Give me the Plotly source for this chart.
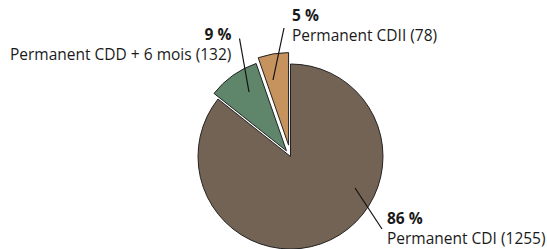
import math
import plotly.graph_objects as go

# ---- data ----
categories = ["Permanent CDI", "Permanent CDD + 6 mois", "Permanent CDII"]
counts = [1255, 132, 78]
colors = ["#736354", "#5f866a", "#c6935f"]
pulls = [0.0, 0.075, 0.125]   # fraction of radius each slice is pulled out

# ---- layout constants (pixels) ----
W, H = 547, 249
CX, CY, R = 290.5, 156.5, 92.5
FONT = "Open Sans"
FS = 15.5

# label layout: leader inner/outer points, text x, middle y of the label block, alignment
label_layout = [
    dict(inner=(355, 188), outer=(382, 229), tx=386, ty=227.5, anchor="left"),
    dict(inner=(249, 92), outer=(239.5, 38.5), tx=232, ty=44, anchor="right"),
    dict(inner=(273, 80), outer=(284, 28), tx=291, ty=25, anchor="left"),
]

total = sum(counts)
pct = [round(100 * c / total) for c in counts]

fig = go.Figure()

# one trace per visible slice so each one can be offset (pulled) independently
start = 0.0
for i, c in enumerate(counts):
    span = 360.0 * c / total
    mid = math.radians(start + span / 2)
    d = pulls[i] * R
    cx = CX + d * math.sin(mid)
    cy = CY - d * math.cos(mid)
    start += span
    slice_colors = ["rgba(0,0,0,0)"] * len(counts)
    slice_colors[i] = colors[i]
    widths = [0] * len(counts)
    widths[i] = 1
    fig.add_trace(go.Pie(
        labels=categories, values=counts, sort=False,
        direction="clockwise", rotation=0,
        marker=dict(colors=slice_colors, line=dict(color="#222222", width=widths)),
        textinfo="none", hoverinfo="skip", showlegend=False,
        domain=dict(x=[(cx - R) / W, (cx + R) / W],
                    y=[(H - cy - R) / H, (H - cy + R) / H]),
    ))

# invisible pixel axes for leader lines
fig.update_xaxes(range=[0, W], visible=False, fixedrange=True)
fig.update_yaxes(range=[H, 0], visible=False, fixedrange=True)

for i, lay in enumerate(label_layout):
    (x0, y0), (x1, y1) = lay["inner"], lay["outer"]
    fig.add_shape(type="line", x0=x0, y0=y0, x1=x1, y1=y1, xref="x", yref="y",
                  line=dict(color="#111111", width=1.2))
    fig.add_annotation(
        x=lay["tx"] / W, y=1 - lay["ty"] / H, xref="paper", yref="paper", showarrow=False,
        xanchor=lay["anchor"], yanchor="middle", align=lay["anchor"], borderpad=0,
        text=f"<b>{pct[i]} %</b><br>{categories[i]} ({counts[i]})",
        font=dict(family=FONT, size=FS, color="#1a1a1a"),
    )

fig.update_layout(
    width=W, height=H, margin=dict(l=0, r=0, t=0, b=0),
    paper_bgcolor="white", plot_bgcolor="white",
)

fig.write_html("out.html", config={"displayModeBar": False},
               post_script="document.body.style.margin='0';")
